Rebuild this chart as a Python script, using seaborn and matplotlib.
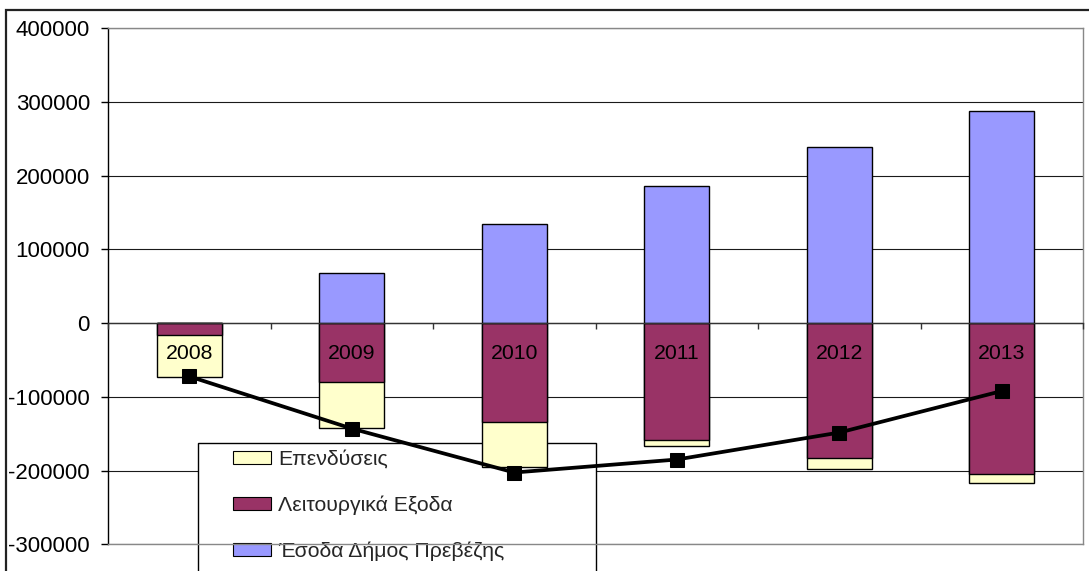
import numpy as np
import matplotlib
matplotlib.use("Agg")
import matplotlib.pyplot as plt
from matplotlib.patches import Patch, Rectangle
import seaborn as sns

# Data (euros)
years = ["2008", "2009", "2010", "2011", "2012", "2013"]
investments = [-56900, -61600, -61300, -9100, -14500, -12200]        # Επενδύσεις
operating = [-15700, -80000, -134500, -157900, -183600, -205300]     # Λειτουργικά Εξοδα
revenue = [0, 67700, 135000, 185500, 238300, 288000]                 # Έσοδα Δήμος Πρεβέζης
balance = [-72200, -143000, -202600, -185000, -148400, -92100]       # line series

series_labels = ["Επενδύσεις", "Λειτουργικά Εξοδα", "Έσοδα Δήμος Πρεβέζης"]
yticks = [-300000, -200000, -100000, 0, 100000, 200000, 300000, 400000]

col_inv = "#FFFFCC"
col_op = "#993366"
col_rev = "#9999FF"
FS_TICK = 16
FS = 15.3

sns.set_style("white")
plt.rcParams["font.family"] = ["Liberation Sans", "DejaVu Sans"]
plt.rcParams["axes.unicode_minus"] = False

W, H = 1089, 571
fig = plt.figure(figsize=(W / 100, H / 100), dpi=100)
ax = fig.add_axes([108 / W, 1 - 544.3 / H, (1083 - 108) / W, (544.3 - 28.3) / H])

# stacked negative part: total expenses drawn first, operating expenses on top
total_neg = np.array(operating) + np.array(investments)
bar_kw = dict(width=0.4, edgecolor="black", linewidth=1.0, saturation=1, ax=ax)
sns.barplot(x=years, y=total_neg, color=col_inv, **bar_kw)
sns.barplot(x=years, y=operating, color=col_op, **bar_kw)
sns.barplot(x=years, y=revenue, color=col_rev, **bar_kw)

pos = np.arange(len(years))
sns.lineplot(x=pos, y=balance, color="black", linewidth=2.7, marker="s",
             markersize=9.5, markeredgecolor="black", sort=False, ax=ax, zorder=4)

ymin, ymax = -300000, 400000
ax.set_ylim(ymin, ymax)
ax.set_xlim(-0.5, len(years) - 0.5)
ax.set_yticks(yticks)
ax.set_yticklabels([str(v) for v in yticks])
ax.set_xlabel("")
ax.set_ylabel("")
ax.tick_params(axis="x", bottom=False, labelbottom=False)
ax.tick_params(axis="y", left=True, length=5, width=1, color="black",
               direction="out", pad=8, labelsize=FS_TICK, labelcolor="black")

ax.set_axisbelow(True)
ax.yaxis.grid(True, color="#1a1a1a", linewidth=0.8)
ax.xaxis.grid(False)
for side in ["top", "right", "bottom"]:
    ax.spines[side].set_color("#888888")
    ax.spines[side].set_linewidth(1.0)
ax.spines["left"].set_color("black")
ax.spines["left"].set_linewidth(1.0)

# category axis running along the zero line, drawn above the bars
sec = ax.secondary_xaxis((0 - ymin) / (ymax - ymin))
sec.set_zorder(3)
sec.set_xticks(pos, labels=years)
sec.set_xticks(np.arange(len(years) + 1) - 0.5, minor=True)
sec.tick_params(which="major", length=0, pad=15, labelsize=FS, labelcolor="black")
sec.tick_params(which="minor", length=4.5, width=1, color="#333333", direction="out")
sec.spines["bottom"].set_color("#333333")
sec.spines["bottom"].set_linewidth(1.0)

# legend box (sits behind the series)
lx0, ly_top, lx1 = 198.3, 442.7, 596
box = Rectangle((lx0 / W, -0.2), (lx1 - lx0) / W, 1 - ly_top / H + 0.2,
                transform=fig.transFigure, facecolor="white", edgecolor="black",
                linewidth=1.0, clip_on=False, zorder=0.8)
ax.add_patch(box)

handles = [Patch(facecolor=c, edgecolor="black", linewidth=0.8)
           for c in (col_inv, col_op, col_rev)]
leg = ax.legend(handles, series_labels, loc="upper left",
                bbox_to_anchor=(232.7 / W, 1 - 450 / H),
                bbox_transform=fig.transFigure, frameon=False,
                fontsize=FS, handlelength=1.8, handleheight=0.6,
                handletextpad=0.32, labelspacing=1.25, borderpad=0,
                borderaxespad=0)
leg.set_zorder(0.85)

# outer chart border
fig.add_artist(Rectangle((6 / W, -0.1), 1.2, 1 - 10 / H + 0.1,
                         transform=fig.transFigure, facecolor="none",
                         edgecolor="#222222", linewidth=1.6, clip_on=False))

fig.savefig("out.png", dpi=100)
